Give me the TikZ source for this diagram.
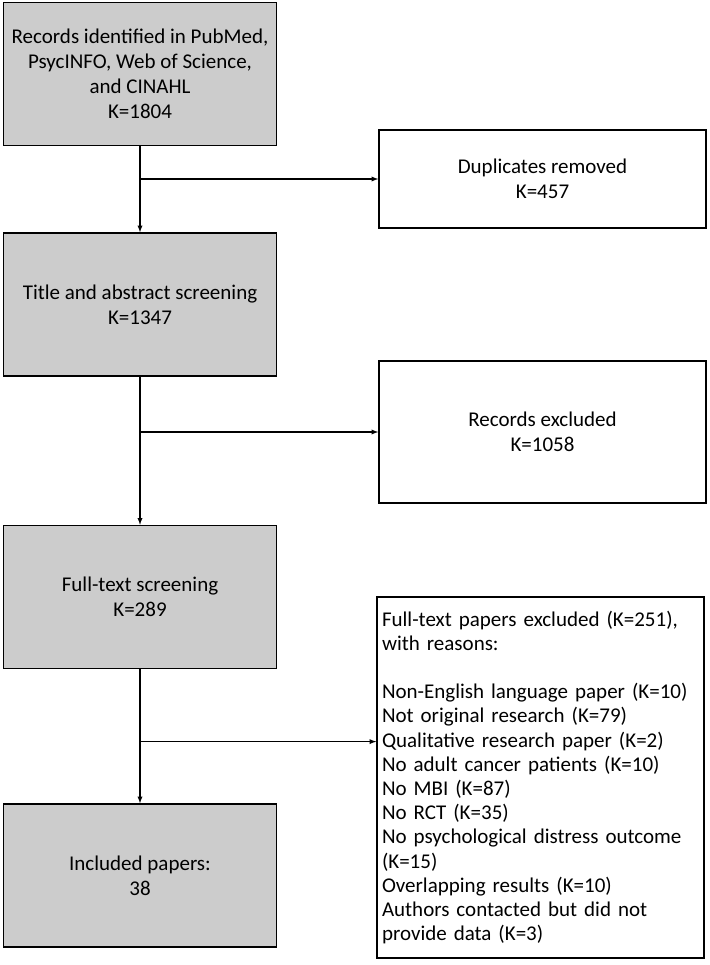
\documentclass[tikz,border=0pt]{standalone}
\usepackage{fontspec}
\setmainfont{Carlito}
\usetikzlibrary{arrows,shapes,positioning,calc}

\begin{document}
\begin{tikzpicture}[x=1pt, y=1pt, node distance=230pt]
	\tikzset{StepStyle/.style = {
			shape=rectangle,
			draw=black,
			line width=1.5pt,
			fill=black!20,
			minimum width=273pt,
			minimum height=143pt,
			align=center,
			font=\fontsize{21}{25}\selectfont
	}}
	\tikzset{OutStyle/.style = {
			shape=rectangle,
			draw=black,
			line width=1.5pt,
			fill=white,
			minimum width=327pt,
			align=center,
			font=\fontsize{21}{25}\selectfont
	}}
	\useasboundingbox (0,0) rectangle (709,-965);
	\node[StepStyle] (b1) at (140,-74) {Records identified in PubMed,\\PsycINFO, Web of Science,\\and CINAHL\\K=1804};
	\node[StepStyle, node distance=230.5pt, below of=b1] (b2) {Title and abstract screening\\K=1347};
	\node[StepStyle, node distance=292.5pt, below of=b2] (b3) {Full-text screening\\K=289};
	\node[StepStyle, node distance=278.5pt, below of=b3] (b4) {Included papers:\\38};
	\node[OutStyle, minimum height=98pt, node distance=402.5pt, right of=b1, yshift=-105pt] (dup) {Duplicates removed\\K=457};
	\node[OutStyle, minimum height=142pt, node distance=402.5pt, right of=b2, yshift=-127.5pt] (rec) {Records excluded\\K=1058};
	\node[OutStyle, minimum height=361pt, text width=317pt, inner xsep=5pt, align=left,
		font=\fontsize{21}{24.2}\selectfont,
		node distance=400.5pt, right of=b3, yshift=-180.5pt] (full) {Full-text papers excluded (K=251),\\with reasons:\\[24.2pt]Non-English language paper (K=10)\\Not original research (K=79)\\Qualitative research paper (K=2)\\No adult cancer patients (K=10)\\No MBI (K=87)\\No RCT (K=35)\\No psychological distress outcome\\(K=15)\\Overlapping results (K=10)\\Authors contacted but did not\\provide data (K=3)};
	
	% branch points on the main line
	\coordinate (j1) at (b1.south |- dup.west);
	\coordinate (j2) at (b2.south |- rec.west);
	\coordinate (j3) at ($(b3.south)!0.54!(b4.north)$);
	
	\path [-latex, line width=1.3pt] (b1) edge (b2);
	\path [-latex, line width=1.3pt] (b2) edge (b3);
	\path [-latex, line width=1.3pt] (b3) edge (b4);
	\path [-latex, line width=1.3pt] (j1) edge (dup.west);
	\path [-latex, line width=1.3pt] (j2) edge (rec.west);
	\path [-latex, line width=1.3pt] (j3) edge (j3 -| full.west);
\end{tikzpicture}
\end{document}
